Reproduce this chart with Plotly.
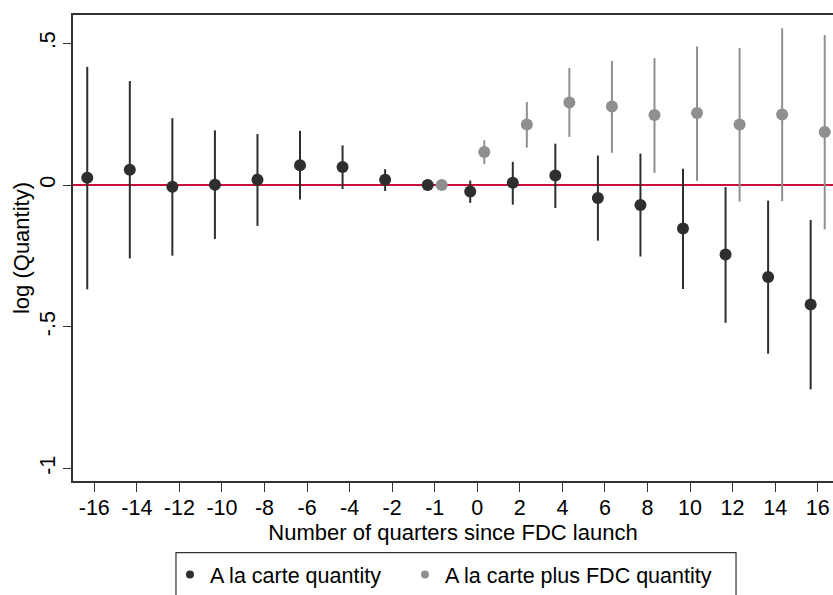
import plotly.graph_objects as go

# Event-study coefficients by quarter relative to FDC launch
quarters = [-16, -14, -12, -10, -8, -6, -4, -2, -1, 0, 2, 4, 6, 8, 10, 12, 14, 16]

# A la carte quantity: point estimate and 95% CI bounds
alc_coef = [0.026, 0.054, -0.006, 0.001, 0.019, 0.070, 0.064, 0.019, 0.000,
            -0.023, 0.008, 0.034, -0.046, -0.070, -0.153, -0.245, -0.324, -0.421]
alc_hi = [0.417, 0.367, 0.236, 0.193, 0.180, 0.191, 0.140, 0.056, 0.000,
          0.016, 0.082, 0.146, 0.104, 0.111, 0.058, -0.007, -0.055, -0.123]
alc_lo = [-0.368, -0.259, -0.249, -0.190, -0.144, -0.051, -0.014, -0.021, 0.000,
          -0.063, -0.069, -0.081, -0.196, -0.252, -0.367, -0.486, -0.595, -0.721]

# A la carte plus FDC quantity (estimated from quarter -1 onward)
fdc_quarters = [-1, 0, 2, 4, 6, 8, 10, 12, 14, 16]
fdc_coef = [0.000, 0.117, 0.214, 0.291, 0.277, 0.247, 0.254, 0.214, 0.249, 0.187]
fdc_hi = [0.000, 0.158, 0.293, 0.413, 0.438, 0.448, 0.489, 0.484, 0.553, 0.529]
fdc_lo = [0.000, 0.074, 0.132, 0.170, 0.114, 0.043, 0.015, -0.058, -0.057, -0.156]

y_tickvals = [-1, -0.5, 0, 0.5]
y_ticktext = ["-1", "-.5", "0", ".5"]

DARK = "#2e2e2e"
GREY = "#8f8f8f"
FONT = "Liberation Sans, Arial, sans-serif"
FS = 21.5      # tick labels and legend
FS_T = 22      # axis titles
shift = 0.165  # horizontal dodge between the two series

pos = {q: i for i, q in enumerate(quarters)}
x_alc = [pos[q] - shift for q in quarters]
x_fdc = [pos[q] + shift for q in fdc_quarters]

fig = go.Figure()


def add_series(x, coef, hi, lo, color, name, legend):
    fig.add_trace(go.Scatter(
        x=x, y=coef, mode="markers", showlegend=False, name=name,
        marker=dict(color=color, size=12, line=dict(width=0)),
        error_y=dict(type="data", symmetric=False,
                     array=[h - c for h, c in zip(hi, coef)],
                     arrayminus=[c - l for c, l in zip(coef, lo)],
                     color=color, thickness=2, width=0),
    ))
    # small legend key
    fig.add_trace(go.Scatter(
        x=[None], y=[None], mode="markers", name=name, legend=legend,
        marker=dict(color=color, size=8),
    ))


add_series(x_alc, alc_coef, alc_hi, alc_lo, DARK, "A la carte quantity", "legend")
add_series(x_fdc, fdc_coef, fdc_hi, fdc_lo, GREY, "A la carte plus FDC quantity", "legend2")

# reference line at zero
fig.add_shape(type="line", xref="paper", x0=0, x1=1, yref="y", y0=0, y1=0,
              line=dict(color="#c8103c", width=2), layer="below")

# frame around the legend keys
fig.add_shape(type="rect", xref="paper", yref="paper",
              x0=0.1355, x1=0.8724, y0=-0.1535, y1=-0.26,
              line=dict(color="#333333", width=1.2), fillcolor="rgba(0,0,0,0)")

leg_common = dict(orientation="h", xanchor="left", yanchor="top", y=-0.1578,
                  borderwidth=0, bgcolor="rgba(0,0,0,0)",
                  font=dict(family=FONT, size=FS, color="black"))

fig.update_layout(
    width=833, height=595,
    margin=dict(l=73, r=0, t=15, b=111),
    paper_bgcolor="white", plot_bgcolor="white",
    font=dict(family=FONT, size=FS, color="black"),
    legend=dict(x=0.1276, **leg_common),
    legend2=dict(x=0.4368, **leg_common),
)

fig.update_xaxes(
    range=[-0.5, 17.36],
    tickmode="array", tickvals=list(range(len(quarters))),
    ticktext=[str(q) for q in quarters],
    tickfont=dict(family=FONT, size=FS, color="black"),
    ticks="outside", ticklen=9, tickwidth=1.2, tickcolor="#333333",
    ticklabelstandoff=-3,
    showline=True, linecolor="#333333", linewidth=1.6, mirror=True,
    showgrid=False, zeroline=False,
    title=dict(text="Number of quarters since FDC launch", standoff=0,
               font=dict(family=FONT, size=FS_T, color="black")),
)

fig.update_yaxes(
    range=[-1.044, 0.6],
    tickmode="array", tickvals=y_tickvals, ticktext=y_ticktext,
    tickangle=-90,
    tickfont=dict(family=FONT, size=FS, color="black"),
    ticks="outside", ticklen=8, tickwidth=1.2, tickcolor="#333333",
    showline=True, linecolor="#333333", linewidth=1.6, mirror=False,
    showgrid=False, zeroline=False,
    title=dict(text="log (Quantity)", standoff=0,
               font=dict(family=FONT, size=FS_T, color="black")),
)

fig.write_html("out.html")
